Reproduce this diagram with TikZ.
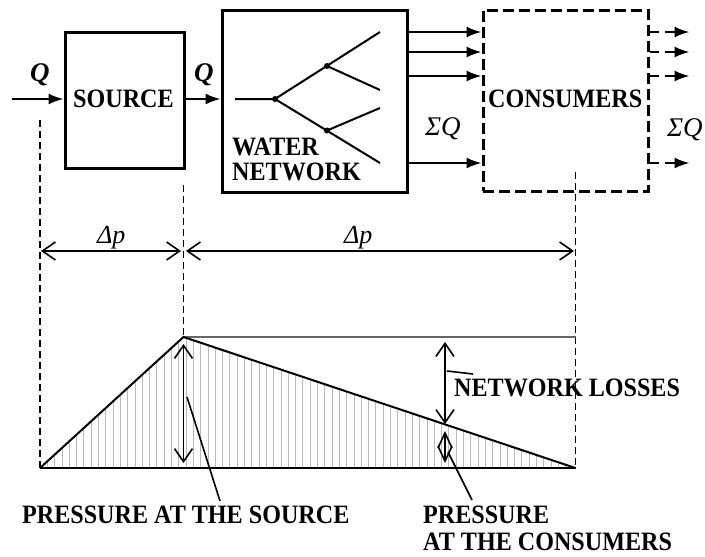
\documentclass[tikz,border=0pt]{standalone}
\usepackage{fontspec}
\setmainfont{Liberation Serif}
\newfontfamily\lbfont[FakeStretch=0.91]{Liberation Serif Bold}
\usetikzlibrary{arrows.meta}
\begin{document}
\begin{tikzpicture}[x=1pt,y=-1pt,
  box/.style={draw, line width=3pt, inner sep=0pt},
  dbox/.style={draw, line width=3pt, inner sep=0pt, dash pattern=on 11pt off 5pt},
  lbl/.style={font=\fontsize{26.5}{28}\lbfont, inner sep=0pt, anchor=base west},
  qlbl/.style={font=\fontsize{27}{28}\selectfont\bfseries\itshape, inner sep=0pt, anchor=base west},
  slbl/.style={font=\fontsize{27}{28}\selectfont\itshape, inner sep=0pt, anchor=base west},
  dlbl/.style={font=\fontsize{26}{28}\selectfont\itshape, inner sep=0pt, anchor=base west},
  arr/.style={line width=2pt, -{Latex[length=15pt,width=11pt]}},
  flow/.style={line width=2pt},
  guide/.style={line width=1.3pt, dash pattern=on 7pt off 4pt},
  dimarr/.style={line width=1.6pt, {Straight Barb[length=13pt,width=18pt]}-{Straight Barb[length=13pt,width=18pt]}},
  smallarr/.style={line width=1.6pt, {Straight Barb[length=15pt,width=14pt]}-{Straight Barb[length=15pt,width=14pt]}},
  leader/.style={line width=1.6pt},
  dot/.style={circle, fill, inner sep=0pt, minimum size=6pt}
]
\useasboundingbox (0,0) rectangle (705,557);

% ---- boxes ----
\node[box, minimum width=119pt, minimum height=136pt] (src) at (124.5,100) {};
\node[box, minimum width=185pt, minimum height=182pt] (net) at (314.5,101) {};
\node[dbox, minimum width=165pt, minimum height=181pt] (cons) at (565.5,100.5) {};

\node[lbl] (srct) at (73,107) {SOURCE};
\node[lbl] (wat) at (232,155) {WATER};
\node[lbl] (netw) at (232,180) {NETWORK};
\node[lbl] (const) at (488,107) {CONSUMERS};

% ---- flow labels ----
\node[qlbl] (q1) at (30,81) {Q};
\node[qlbl] (q2) at (194,81) {Q};
\node[slbl] (sq1) at (425,135) {ΣQ};
\node[slbl] (sq2) at (667,136) {ΣQ};

% ---- main flow arrows ----
\coordinate (inQ) at (12,99);
\draw[arr] (inQ) -- (inQ -| src.west);
\draw[arr] (inQ -| src.east) -- (inQ -| net.west);

% ---- tree inside the network ----
\coordinate (t0) at (235,99);
\coordinate (t1) at (275,99);
\coordinate (t2) at (327,66);
\coordinate (t3) at (380,32);
\coordinate (t4) at (380,90);
\coordinate (t5) at (327,130.5);
\coordinate (t6) at (380,108);
\coordinate (t7) at (380,163);
\draw[flow] (t0) -- (t1) -- (t3);
\draw[flow] (t2) -- (t4);
\draw[flow] (t1) -- (t7);
\draw[flow] (t5) -- (t6);
\node[dot] (d1) at (t1) {};
\node[dot] (d2) at (t2) {};
\node[dot] (d3) at (t5) {};

% ---- network to consumers ----
\foreach \yy/\nm in {32/ya, 52/yb, 76/yc, 163/yd}{
  \coordinate (\nm) at (0,\yy);
  \draw[arr] (net.east |- \nm) -- (cons.west |- \nm);
  \draw[flow] (cons.east |- \nm) -- ++(9,0);
  \draw[arr] ([xshift=15pt]cons.east |- \nm) -- ([xshift=40pt]cons.east |- \nm);
}

% ---- guide lines ----
\coordinate (A) at (40,468);
\coordinate (P) at (183.5,337);
\coordinate (B) at (575.5,468);
\coordinate (gA) at (40,120);
\coordinate (gP) at (183.5,185);
\coordinate (gB) at (575.5,172);
\draw[guide] (gA) -- (A);
\draw[guide] (gP) -- (P);
\draw[guide] (gB) -- (B);

% ---- dimension arrows ----
\coordinate (dm1) at (41,251);
\coordinate (dm2) at (181,251);
\coordinate (dm3) at (186,251);
\coordinate (dm4) at (574,251);
\draw[dimarr] (dm1) -- (dm2);
\draw[dimarr] (dm3) -- (dm4);
\node[dlbl] (dp1) at (97,243) {Δp};
\node[dlbl] (dp2) at (344,243) {Δp};

% ---- pressure diagram ----
\begin{scope}
  \clip (A) -- (P) -- (B) -- cycle;
  \foreach \xx in {40,47.3,...,576}{
    \draw[gray!55, line width=0.8pt] (\xx,330) -- (\xx,470);
  }
\end{scope}
\coordinate (top2) at (575.5,337);
\draw[gray!80!black, line width=1.3pt] (P) -- (top2);
\draw[line width=2pt, line join=round] (A) -- (P) -- (B);
\draw[line width=2.6pt] (A) -- (B);

% source pressure arrow
\coordinate (sp1) at (183.5,344);
\coordinate (sp2) at (183.5,463);
\draw[dimarr] (sp1) -- (sp2);

% network losses arrow
\coordinate (nl1) at (445,342);
\coordinate (nl2) at (445,424);
\draw[dimarr] (nl1) -- (nl2);

% consumer pressure arrow
\coordinate (cp1) at (445,431);
\coordinate (cp2) at (445,463);
\draw[smallarr] (cp1) -- (cp2);

% ---- labels and leaders ----
\node[lbl] (nlt) at (454,396) {NETWORK LOSSES};
\node[lbl] (pst) at (22,523) {PRESSURE AT THE SOURCE};
\node[lbl] (pct1) at (423,523) {PRESSURE};
\node[lbl] (pct2) at (423,550) {AT THE CONSUMERS};

\coordinate (l1a) at (447,371);
\coordinate (l1b) at (473,374);
\draw[leader] (l1a) -- (l1b);
\coordinate (l2a) at (187,397);
\coordinate (l2b) at (220,501);
\draw[leader] (l2a) -- (l2b);
\coordinate (l3a) at (448,452);
\coordinate (l3b) at (472,500);
\draw[leader] (l3a) -- (l3b);
\end{tikzpicture}
\end{document}
